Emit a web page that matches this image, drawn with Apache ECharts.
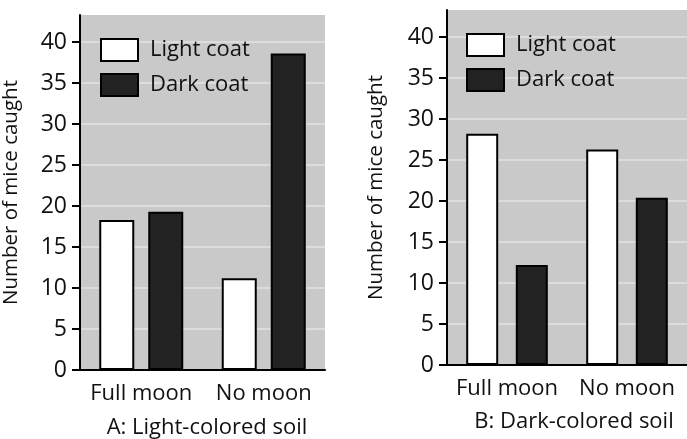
<!DOCTYPE html>
<html>
<head>
<meta charset="utf-8">
<script src="https://cdn.jsdelivr.net/npm/echarts@6/dist/echarts.min.js"></script>
<style>
  html, body { margin: 0; padding: 0; background: #fff; }
  #main { width: 687px; height: 439px; }
</style>
</head>
<body>
<div id="main"></div>
<script>
// data
var categories = ['Full moon', 'No moon'];
var lightA = [18.3, 11.2];   // A: light-colored soil
var darkA = [19.3, 38.6];
var lightB = [28.2, 26.3];   // B: dark-colored soil
var darkB = [12.2, 20.4];
var yTicks = [0, 5, 10, 15, 20, 25, 30, 35, 40];

var FONT = 'Open Sans';
var myChart = echarts.init(document.getElementById('main'));

function yAxisFor(gi) {
    return {
        gridIndex: gi,
        type: 'value',
        min: 0,
        max: 43.3,
        name: 'Number of mice caught',
        nameLocation: 'middle',
        nameGap: gi === 0 ? 58 : 60,
        nameTextStyle: { fontFamily: FONT, fontSize: 20.5, color: '#111' },
        axisLine: { show: true, lineStyle: { color: '#000', width: 2 } },
        axisTick: { show: true, inside: false, length: 8, customValues: yTicks, lineStyle: { color: '#000', width: 2 } },
        axisLabel: { customValues: yTicks, margin: 13, fontFamily: FONT, fontSize: 23, color: '#111' },
        splitLine: { show: true, lineStyle: { color: 'rgba(255,255,255,0.35)', width: 2 } }
    };
}

function xAxisFor(gi) {
    return {
        gridIndex: gi,
        type: 'category',
        data: categories,
        axisLine: { show: true, lineStyle: { color: '#000', width: 2 } },
        axisTick: { show: false },
        axisLabel: { interval: 0, margin: 13, fontFamily: FONT, fontSize: 22, color: '#111' }
    };
}

var lightStyle = { color: '#fff', borderColor: '#000', borderWidth: 2 };
var darkStyle = { color: '#222', borderColor: '#000', borderWidth: 2 };

function legendFor(left, top) {
    return {
        orient: 'vertical',
        left: left,
        top: top,
        itemWidth: 37,
        itemHeight: 22,
        itemGap: 11,
        icon: 'rect',
        textStyle: { fontFamily: FONT, fontSize: 22, color: '#111', padding: [0, 0, 0, 7] },
        data: ['Light coat', 'Dark coat']
    };
}

var option = {
    animation: false,
    backgroundColor: '#fff',
    grid: [
        { left: 80, top: 15, width: 245, height: 355, show: true, backgroundColor: '#c9c9c9', borderWidth: 0 },
        { left: 447, top: 10, width: 240, height: 355, show: true, backgroundColor: '#c9c9c9', borderWidth: 0 }
    ],
    legend: [legendFor(95, 33), legendFor(461, 28)],
    xAxis: [xAxisFor(0), xAxisFor(1)],
    yAxis: [yAxisFor(0), yAxisFor(1)],
    graphic: [
        { type: 'text', x: 207, y: 428, style: { text: 'A: Light-colored soil', fontFamily: FONT, fontSize: 22, fill: '#111', textAlign: 'center', textVerticalAlign: 'middle' } },
        { type: 'text', x: 574, y: 422, style: { text: 'B: Dark-colored soil', fontFamily: FONT, fontSize: 22, fill: '#111', textAlign: 'center', textVerticalAlign: 'middle' } }
    ],
    series: [
        { name: 'Light coat', type: 'bar', xAxisIndex: 0, yAxisIndex: 0, barWidth: 35, barGap: '40%', itemStyle: lightStyle, data: lightA },
        { name: 'Dark coat', type: 'bar', xAxisIndex: 0, yAxisIndex: 0, barWidth: 35, barGap: '40%', itemStyle: darkStyle, data: darkA },
        { name: 'Light coat', type: 'bar', xAxisIndex: 1, yAxisIndex: 1, barWidth: 32, barGap: '55%', itemStyle: lightStyle, data: lightB },
        { name: 'Dark coat', type: 'bar', xAxisIndex: 1, yAxisIndex: 1, barWidth: 32, barGap: '55%', itemStyle: darkStyle, data: darkB }
    ]
};

myChart.setOption(option);
</script>
</body>
</html>
